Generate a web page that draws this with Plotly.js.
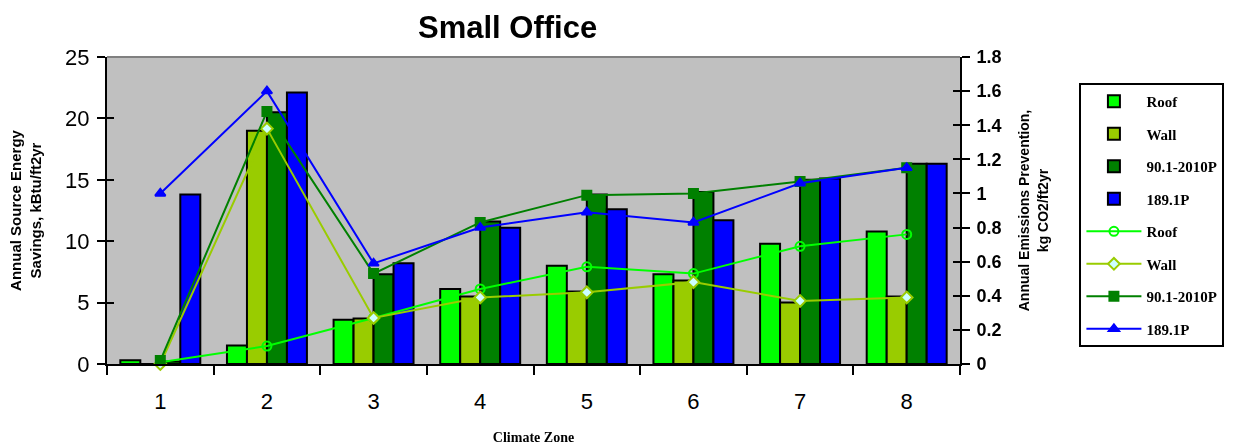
<!DOCTYPE html>
<html>
<head>
<meta charset="utf-8">
<script src="https://cdn.plot.ly/plotly-3.0.1.min.js"></script>
<style>html,body{margin:0;padding:0;background:#fff;}#chart{width:1238px;height:447px;}</style>
</head>
<body>
<div id="chart"></div>
<script>
const zones = ["1","2","3","4","5","6","7","8"];
// Annual source energy savings, kBtu/ft2yr (bars, left axis)
const roofEnergy  = [0.3, 1.5, 3.6, 6.1, 8.0, 7.3, 9.8, 10.8];
const wallEnergy  = [0.0, 19.0, 3.7, 5.5, 5.9, 6.8, 5.0, 5.5];
const std901Energy = [0.2, 20.5, 7.3, 11.6, 13.8, 14.0, 15.0, 16.3];
const std1891Energy = [13.8, 22.1, 8.2, 11.1, 12.6, 11.7, 15.1, 16.3];
// Annual emissions prevention, kg CO2/ft2yr (lines, right axis)
const roofCO2  = [0.01, 0.105, 0.27, 0.44, 0.57, 0.53, 0.69, 0.76];
const wallCO2  = [0.0, 1.38, 0.27, 0.39, 0.42, 0.48, 0.37, 0.39];
const std901CO2 = [0.02, 1.48, 0.53, 0.83, 0.99, 1.0, 1.07, 1.15];
const std1891CO2 = [1.0, 1.6, 0.59, 0.80, 0.89, 0.83, 1.06, 1.15];

const cRoof = "#00FF00", cWall = "#99CC00", c901 = "#008000", c1891 = "#0000FF";

function bar(name, y, color, g) {
  return {type: "bar", name: name, x: zones, y: y, yaxis: "y", legendgroup: g,
    marker: {color: color, line: {color: "#000", width: 2}}};
}
function line(name, y, color, sym, fill, g) {
  return {type: "scatter", mode: "lines+markers", name: name, x: zones, y: y, yaxis: "y2",
    legendgroup: g, cliponaxis: false,
    line: {color: color, width: 2},
    marker: {symbol: sym, size: 9, color: fill, line: {color: color, width: 2}}};
}
// invisible helpers so the tick-only overlay axes (crossing ticks) get drawn
function ghost(y, axis) {
  return {type: "scatter", mode: "markers", x: zones, y: y, yaxis: axis, opacity: 0,
    showlegend: false, hoverinfo: "skip", marker: {size: 1}};
}

const data = [
  bar("Roof", roofEnergy, cRoof, "a"),
  bar("Wall", wallEnergy, cWall, "b"),
  bar("90.1-2010P", std901Energy, c901, "c"),
  bar("189.1P", std1891Energy, c1891, "d"),
  line("Roof", roofCO2, cRoof, "circle-open", cRoof, "e"),
  line("Wall", wallCO2, cWall, "diamond", "#CCFFFF", "f"),
  line("90.1-2010P", std901CO2, c901, "square", c901, "g"),
  line("189.1P", std1891CO2, c1891, "triangle-up", c1891, "h"),
  ghost(roofEnergy, "y3"),
  ghost(roofCO2, "y4")
];

const axisFont = "Arial, Liberation Sans, sans-serif";
const layout = {
  width: 1238, height: 447,
  margin: {l: 107, r: 278, t: 57, b: 83},
  paper_bgcolor: "#fff", plot_bgcolor: "#C0C0C0",
  barmode: "group", bargap: 0.25, bargroupgap: 0,
  font: {family: axisFont, color: "#000"},
  title: {text: "<b>Small Office</b>", x: 0.41, xanchor: "center", y: 0.94, yanchor: "middle",
    font: {size: 31, family: axisFont, color: "#000"}},
  xaxis: {type: "category", showline: true, linecolor: "#000", linewidth: 2,
    ticks: "outside", tickson: "boundaries", ticklen: 9, tickwidth: 2, tickcolor: "#000",
    tickfont: {size: 22}, ticklabelstandoff: 17, showgrid: false, zeroline: false,
    title: {text: "<b>Climate Zone</b>", standoff: 19,
      font: {size: 14, family: "Times New Roman, Liberation Serif, serif"}}},
  yaxis: {range: [0, 25], dtick: 5, showline: true, linecolor: "#000", linewidth: 2,
    ticks: "outside", ticklen: 8, tickwidth: 2, tickcolor: "#000",
    tickfont: {size: 22}, ticklabelstandoff: 3, showgrid: false, zeroline: false,
    title: {text: "<b>Annual Source Energy<br>Savings, kBtu/ft2yr</b>", standoff: 20,
      font: {size: 15}}},
  yaxis2: {range: [0, 1.8], dtick: 0.2, overlaying: "y", side: "right",
    showline: true, linecolor: "#000", linewidth: 2,
    ticks: "outside", ticklen: 8, tickwidth: 2, tickcolor: "#000",
    tickfont: {size: 18, weight: "bold"}, ticklabelstandoff: 3, showgrid: false, zeroline: false,
    title: {text: "<b>Annual Emissions Prevention,<br>kg CO2/ft2yr</b>", standoff: 19,
      font: {size: 14}}},
  yaxis3: {range: [0, 25], dtick: 5, overlaying: "y", side: "left", showline: false,
    ticks: "inside", ticklen: 7, tickwidth: 2, tickcolor: "#000",
    showticklabels: false, showgrid: false, zeroline: false},
  yaxis4: {range: [0, 1.8], dtick: 0.2, overlaying: "y", side: "right", showline: false,
    ticks: "inside", ticklen: 7, tickwidth: 2, tickcolor: "#000",
    showticklabels: false, showgrid: false, zeroline: false},
  legend: {x: 1.14, xanchor: "left", y: 0.915, yanchor: "top",
    bordercolor: "#000", borderwidth: 2, bgcolor: "#fff",
    traceorder: "grouped", tracegroupgap: 10, itemwidth: 55,
    font: {size: 15, family: "Times New Roman, Liberation Serif, serif", color: "#000", weight: "bold"}},
  shapes: [{type: "line", xref: "paper", yref: "paper", x0: 0, x1: 1, y0: 1, y1: 1,
    line: {color: "#808080", width: 2}}]
};

Plotly.newPlot("chart", data, layout, {displayModeBar: false, staticPlot: true});
</script>
</body>
</html>
